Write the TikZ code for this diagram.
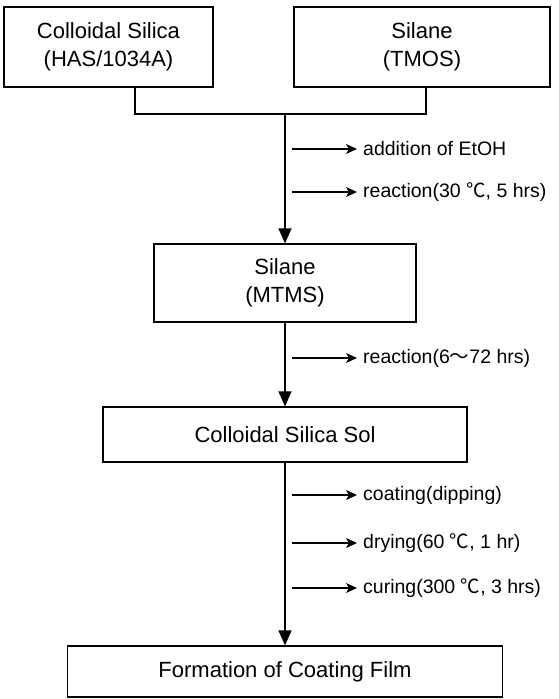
\documentclass[tikz,border=0pt]{standalone}
\usepackage{fontspec}
\setmainfont{Liberation Sans}
\newfontfamily\cjk{Noto Sans CJK SC}
\usetikzlibrary{arrows.meta,calc}
\newcommand{\degc}{{\cjk ℃}}
\newcommand{\wave}{{\cjk ～}}
\begin{document}
\begin{tikzpicture}[x=1pt,y=-1pt,
  box/.style={draw,line width=1.2pt,inner sep=0pt,align=center,
    font=\fontsize{22}{28}\selectfont},
  lab/.style={anchor=west,inner sep=2pt,font=\fontsize{19.5}{22}\selectfont},
  flow/.style={line width=1.2pt},
  varrow/.style={line width=1.2pt,-{Triangle[width=13pt,length=15pt]}},
  harrow/.style={line width=1.1pt,shorten >=4pt,-{Stealth[width=10pt,length=11pt,inset=3pt]}}]
\useasboundingbox (0,0) rectangle (558,699);
% boxes
\node[box,minimum width=209pt,minimum height=80pt] (b1) at (108.5,47) {Colloidal Silica\\(HAS/1034A)};
\node[box,minimum width=256pt,minimum height=80pt] (b2) at (422,47) {Silane\\(TMOS)};
\node[box,minimum width=262pt,minimum height=78pt] (b3) at (285,283) {Silane\\(MTMS)};
\node[box,minimum width=364pt,minimum height=55pt] (b4) at (285,434.5) {Colloidal Silica Sol};
\node[box,minimum width=435pt,minimum height=51pt] (b5) at (285,671.5) {Formation of Coating Film};
% join
\coordinate (j1) at (135,114);
\coordinate (j2) at (426,114);
\coordinate (jm) at (285,114);
\draw[flow] (b1.south -| j1) -- (j1) -- (j2) -- (b2.south -| j2);
\draw[varrow] (jm) -- (b3.north);
\draw[varrow] (b3.south) -- (b4.north);
\draw[varrow] (b4.south) -- (b5.north);
% labels
\node[lab] (l1) at (361,149) {addition of EtOH};
\node[lab] (l2) at (361,192) {reaction(30 \degc, 5 hrs)};
\node[lab] (l3) at (361,358) {reaction(6\wave72 hrs)};
\node[lab] (l4) at (361,495) {coating(dipping)};
\node[lab] (l5) at (361,543) {drying(60 \degc, 1 hr)};
\node[lab] (l6) at (361,588) {curing(300 \degc, 3 hrs)};
\foreach \l in {l1,l2,l3,l4,l5,l6}{
  \draw[harrow] (\l.west -| 292,0) -- (\l.west);
}
\end{tikzpicture}
\end{document}
